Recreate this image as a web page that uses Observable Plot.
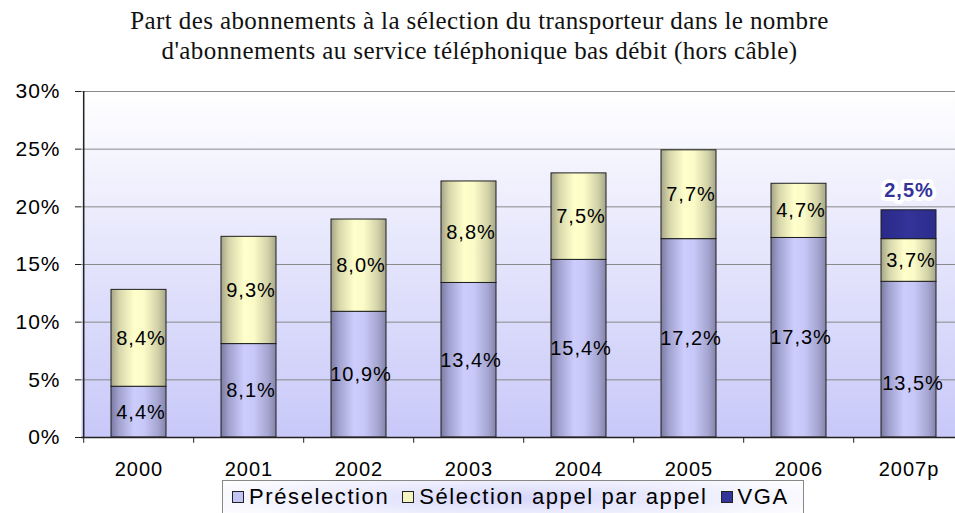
<!DOCTYPE html>
<html><head><meta charset="utf-8">
<script src="https://cdn.jsdelivr.net/npm/d3@7"></script>
<script src="https://cdn.jsdelivr.net/npm/@observablehq/plot@0.6"></script>
<style>
html,body{margin:0;padding:0;background:#fff;overflow:hidden;width:955px;height:513px}
#wrap{position:relative;width:955px;height:513px}
#chart{position:absolute;left:0;top:0}
#chart svg{overflow:visible;background:transparent}
#chart svg text{letter-spacing:1px}
#title{position:absolute;left:2px;top:6px;width:955px;text-align:center;font-family:"Liberation Serif","Times New Roman",serif;font-size:25px;letter-spacing:0.4px;line-height:30px;color:#111}
#legend{position:absolute;left:222px;top:480px;width:582px;height:36px;box-sizing:border-box;border:1px solid #888;overflow:hidden;
 background:radial-gradient(ellipse 60% 90% at 50% 50%, #d6d6fb 0%, #ececfd 50%, #ffffff 100%);
 display:flex;align-items:center;padding-left:9px;padding-bottom:2px;font-family:"Liberation Sans",Arial,sans-serif;font-size:22px;letter-spacing:1.6px;color:#000;white-space:nowrap}
#legend .sw{display:inline-block;width:10px;height:10px;border:1px solid #222;margin-right:5px;flex-shrink:0}
#legend .it{display:flex;align-items:center;margin-right:13px;flex-shrink:0;white-space:nowrap}
</style></head><body>
<div id="wrap">
<div id="chart"></div>
<div id="title">Part des abonnements à la sélection du transporteur dans le nombre<br>d'abonnements au service téléphonique bas débit (hors câble)</div>
<div id="legend"></div>
</div>
<script>
const years = ["2000","2001","2002","2003","2004","2005","2006","2007p"];
const preselection = [4.4, 8.1, 10.9, 13.4, 15.4, 17.2, 17.3, 13.5];
const selection = [8.4, 9.3, 8.0, 8.8, 7.5, 7.7, 4.7, 3.7];
const vga = [null, null, null, null, null, null, null, 2.5];
const seriesNames = ["Préselection", "Sélection appel par appel", "VGA"];
const yTicks = [0, 5, 10, 15, 20, 25, 30];

const fillOf = {"Préselection": "url(#gP)", "Sélection appel par appel": "url(#gS)", "VGA": "url(#gV)"};
const swatch = {"Préselection": "#c4c4f4", "Sélection appel par appel": "#f4f4c0", "VGA": "#333399"};

const rows = [];
years.forEach((yr, i) => {
  [preselection, selection, vga].forEach((arr, s) => {
    if (arr[i] != null) rows.push({year: yr, series: seriesNames[s], value: arr[i]});
  });
});
const fmt = v => v.toFixed(1).replace(".", ",") + "%";
const font = "Liberation Sans, Arial, sans-serif";
const isSpecial = d => d.year === "2007p" && d.series === "Préselection";

const step = 110.6;
const plot = Plot.plot({
  width: 955, height: 513,
  marginTop: 91, marginBottom: 76, marginLeft: 81, marginRight: 0,
  x: {type: "band", domain: years, range: [81, 81 + 8 * step], paddingInner: 0.5, paddingOuter: 0.25},
  y: {domain: [0, 30]},
  color: {type: "identity"},
  marks: [
    Plot.frame({fill: "url(#bgG)", stroke: "none"}),
    Plot.ruleY(yTicks, {stroke: "#8a8a8a", strokeWidth: 1}),
    Plot.barY(rows, {x: "year", y: "value", z: "series", fill: d => fillOf[d.series], stroke: "#1e1e1e", strokeWidth: 1}),
    Plot.text(rows, Plot.stackY({x: "year", y: "value", z: "series",
      text: d => (d.series === "VGA" || isSpecial(d)) ? "" : fmt(d.value),
      fontSize: 20, fontFamily: font, fill: "#000", dx: 2})),
    Plot.text(rows, Plot.stackY({x: "year", y: "value", z: "series",
      text: d => isSpecial(d) ? fmt(d.value) : "",
      fontSize: 20, fontFamily: font, fill: "#000", dx: 4, dy: 24})),
    Plot.text(rows, Plot.stackY2({x: "year", y: "value", z: "series",
      text: d => d.series === "VGA" ? fmt(d.value) : "",
      fontSize: 20, fontFamily: font, fontWeight: "bold", fill: "#333399",
      stroke: "white", strokeWidth: 8, dy: -20})),
    Plot.ruleY([0], {stroke: "#222", strokeWidth: 1.5}),
    Plot.ruleX(years, {x: d => d, y1: 0, y2: -0.5, dx: -step / 2, stroke: "#222"}),
    Plot.ruleX([years[0]], {y1: 0, y2: 30, dx: -step / 2, stroke: "#222", strokeWidth: 1.5}),
    Plot.axisY({ticks: yTicks, tickFormat: d => d + "%", tickSize: 6, tickPadding: 15,
      fontSize: 21, fontFamily: font, label: null, stroke: "#222", fill: "#000"}),
    Plot.axisX({tickSize: 0, tickPadding: 24, fontSize: 20, fontFamily: font, label: null, fill: "#000"})
  ]
});
document.getElementById("chart").appendChild(plot);

const svg = d3.select(plot);
const defs = svg.insert("defs", ":first-child");
function grad(id, stops, vertical) {
  const g = defs.append("linearGradient").attr("id", id)
    .attr("x1", 0).attr("y1", 0).attr("x2", vertical ? 0 : 1).attr("y2", vertical ? 1 : 0);
  stops.forEach(([o, c]) => g.append("stop").attr("offset", o).attr("stop-color", c));
}
grad("gP", [[0, "#7a7aa2"], [0.15, "#a2a2d0"], [0.42, "#cdcdfd"], [0.6, "#c8c8f8"], [0.85, "#a6a6d2"], [1, "#8484aa"]]);
grad("gS", [[0, "#a4a488"], [0.15, "#d6d6aa"], [0.42, "#ffffcc"], [0.6, "#fbfbc8"], [0.85, "#d2d2a8"], [1, "#a6a68a"]]);
grad("gV", [[0, "#2a2a88"], [0.5, "#333399"], [1, "#2c2c8c"]]);
grad("bgG", [[0, "#ffffff"], [1, "#c8c8f9"]], true);

const leg = d3.select("#legend");
seriesNames.forEach(s => {
  const it = leg.append("span").attr("class", "it");
  it.append("span").attr("class", "sw").style("background", swatch[s]);
  it.append("span").text(s);
});
</script>
</body></html>
